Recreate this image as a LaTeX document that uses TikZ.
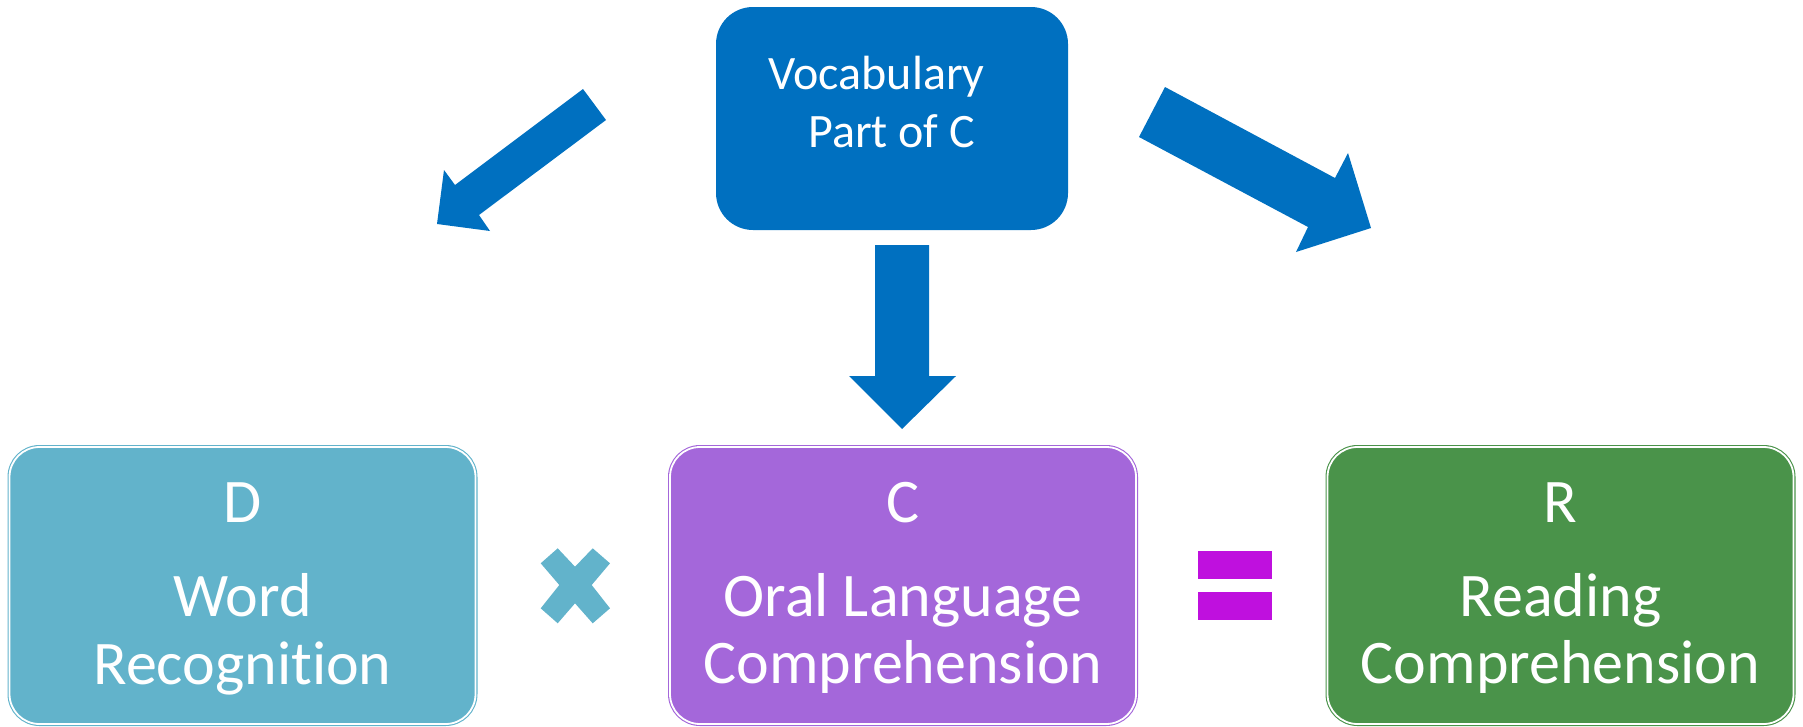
\documentclass[tikz,border=0pt]{standalone}
\usepackage{fontspec}
\setmainfont[Ligatures=NoCommon]{Carlito}
\definecolor{topblue}{HTML}{0070C0}
\definecolor{dblue}{HTML}{62B3CB}
\definecolor{cpurple}{HTML}{A467DA}
\definecolor{rgreen}{HTML}{4A934A}
\definecolor{eqmag}{HTML}{BF10DE}
\begin{document}
\begin{tikzpicture}[x=1pt,y=-1pt,
  termbox/.style={draw=#1, fill=#1, double=white, double distance=1.8pt,
    line width=1.1pt, rounded corners=30pt, minimum width=466pt,
    minimum height=277pt, inner sep=0pt},
  biglbl/.style={text=white, inner sep=0pt, anchor=base,
    font=\fontsize{62}{62}\selectfont},
  toplbl/.style={text=white, inner sep=0pt, anchor=base west,
    font=\fontsize{48}{48}\selectfont},
  blockarrow/.style={fill=topblue, draw=none}]
\useasboundingbox (0,0) rectangle (1803,726);

% source box
\node[fill=topblue, rounded corners=37pt, minimum width=352pt,
  minimum height=223pt, inner sep=0pt] (vocab) at (892,118.5) {};
\node[toplbl] (vocab1) at (768,89) {Vocabulary};
\node[toplbl] (vocab2) at (808,147) {Part of C};

% block arrows leaving the source box
\fill[blockarrow] (583,89) -- (455,185) -- (444,170) -- (437,224)
  -- (490,231) -- (479,215) -- (606,120) -- cycle;
\fill[blockarrow] (1165,87) -- (1335,178) -- (1348,153) -- (1371,228)
  -- (1296,252) -- (1308,227) -- (1139,137) -- cycle;
\fill[blockarrow] (875,245) -- (929,245) -- (929,376) -- (956,376)
  -- (902,429) -- (849,376) -- (875,376) -- cycle;

% the three terms
\node[termbox=dblue] (dbox) at (242.5,585.5) {};
\node[biglbl] (dletter) at (242.5,522) {D};
\node[biglbl] (dname1) at (242.5,616) {Word};
\node[biglbl] (dname2) at (242.5,684) {Recognition};

\node[termbox=cpurple] (cbox) at (903,585.5) {};
\node[biglbl] (cletter) at (903,522) {C};
\node[biglbl] (cname1) at (903,616) {Oral Language};
\node[biglbl] (cname2) at (903,683) {Comprehension};

\node[termbox=rgreen] (rbox) at (1560.5,585.5) {};
\node[biglbl] (rletter) at (1560.5,522) {R};
\node[biglbl] (rname1) at (1560.5,616) {Reading};
\node[biglbl] (rname2) at (1560.5,683) {Comprehension};

% operators
\fill[dblue] (540.7,563.3) -- (557.7,548.3) -- (575,566.7) -- (592.7,548.3)
  -- (610,563.3) -- (591.7,585) -- (610,608.3) -- (592.7,623.3)
  -- (575,603.3) -- (557.7,623.3) -- (540.7,608.3) -- (559.3,585) -- cycle;
\fill[eqmag] (1198,551) rectangle (1272,579);
\fill[eqmag] (1198,592) rectangle (1272,620);
\end{tikzpicture}
\end{document}
